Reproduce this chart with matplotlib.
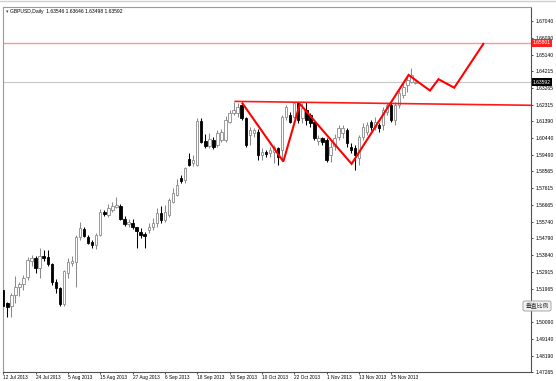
import matplotlib
matplotlib.use("Agg")
import matplotlib.pyplot as plt
from matplotlib.patches import FancyBboxPatch
from matplotlib.transforms import blended_transform_factory
import numpy as np
import pandas as pd

# ---------------- data ----------------
symbol_title = "GBPUSD,Daily  1.63546 1.63646 1.63498 1.63592"
start_date = "2013-07-12"

opens = [1.5190, 1.5113, 1.5100, 1.5161, 1.5207, 1.5223, 1.5261, 1.5354, 1.5366, 1.5312,
         1.5381, 1.5374, 1.5336, 1.5236, 1.5199, 1.5111, 1.5283, 1.5343, 1.5349, 1.5486,
         1.5531, 1.5486, 1.5461, 1.5443, 1.5499, 1.5630, 1.5612, 1.5640, 1.5656, 1.5659,
         1.5588, 1.5561, 1.5568, 1.5543, 1.5518, 1.5505, 1.5527, 1.5546, 1.5565, 1.5621,
         1.5584, 1.5612, 1.5687, 1.5724, 1.5818, 1.5809, 1.5925, 1.5906, 1.5893, 1.6143,
         1.6030, 1.6000, 1.6034, 1.6006, 1.6034, 1.6034, 1.6137, 1.6186, 1.6186, 1.6231,
         1.6158, 1.6062, 1.6072, 1.6081, 1.5950, 1.5968, 1.5959, 1.5968, 1.5989, 1.5978,
         1.6165, 1.6175, 1.6165, 1.6241, 1.6158, 1.6203, 1.6175, 1.6137, 1.6030, 1.6044,
         1.6034, 1.5950, 1.6001, 1.6052, 1.6072, 1.6090, 1.5996, 1.5987, 1.5933, 1.6053,
         1.6081, 1.6137, 1.6109, 1.6118, 1.6118, 1.6193, 1.6231, 1.6147, 1.6231, 1.6288,
         1.6343, 1.6362, 1.63546]
highs = [1.5201, 1.5122, 1.5171, 1.5265, 1.5236, 1.5272, 1.5377, 1.5387, 1.5381, 1.5424,
         1.5415, 1.5411, 1.5343, 1.5250, 1.5207, 1.5302, 1.5368, 1.5381, 1.5499, 1.5572,
         1.5546, 1.5499, 1.5471, 1.5509, 1.5644, 1.5640, 1.5674, 1.5687, 1.5715, 1.5674,
         1.5606, 1.5588, 1.5588, 1.5546, 1.5537, 1.5518, 1.5565, 1.5593, 1.5650, 1.5659,
         1.5668, 1.5706, 1.5762, 1.5813, 1.5837, 1.5884, 1.5959, 1.5950, 1.6156, 1.6156,
         1.6068, 1.6072, 1.6049, 1.6090, 1.6094, 1.6169, 1.6203, 1.6250, 1.6241, 1.6241,
         1.6165, 1.6109, 1.6100, 1.6094, 1.5987, 1.5977, 1.5996, 1.6006, 1.5996, 1.6175,
         1.6231, 1.6193, 1.6250, 1.6250, 1.6241, 1.6250, 1.6184, 1.6147, 1.6062, 1.6053,
         1.6044, 1.6024, 1.6068, 1.6118, 1.6118, 1.6102, 1.6017, 1.6006, 1.6062, 1.6128,
         1.6137, 1.6147, 1.6165, 1.6128, 1.6222, 1.6241, 1.6241, 1.6250, 1.6316, 1.6353,
         1.6390, 1.6438, 1.63646]
lows = [1.5077, 1.5039, 1.5039, 1.5113, 1.5156, 1.5190, 1.5246, 1.5325, 1.5283, 1.5255,
        1.5353, 1.5325, 1.5218, 1.5171, 1.5100, 1.5100, 1.5255, 1.5325, 1.5205, 1.5471,
        1.5486, 1.5449, 1.5424, 1.5419, 1.5494, 1.5606, 1.5602, 1.5630, 1.5650, 1.5584,
        1.5550, 1.5546, 1.5531, 1.5424, 1.5481, 1.5424, 1.5509, 1.5527, 1.5546, 1.5565,
        1.5574, 1.5602, 1.5678, 1.5719, 1.5790, 1.5790, 1.5888, 1.5888, 1.5888, 1.6015,
        1.5987, 1.5987, 1.5982, 1.5996, 1.6024, 1.6024, 1.6128, 1.6175, 1.6165, 1.6147,
        1.5996, 1.6006, 1.6053, 1.5921, 1.5921, 1.5940, 1.5940, 1.5903, 1.5893, 1.5921,
        1.6147, 1.6128, 1.6156, 1.6128, 1.6128, 1.6119, 1.6109, 1.6034, 1.6006, 1.6006,
        1.5912, 1.5912, 1.5978, 1.6034, 1.6045, 1.5995, 1.5961, 1.5865, 1.5893, 1.6034,
        1.6062, 1.6090, 1.6090, 1.6081, 1.6090, 1.6175, 1.6135, 1.6119, 1.6212, 1.6269,
        1.6306, 1.6353, 1.63498]
closes = [1.5100, 1.5094, 1.5161, 1.5207, 1.5223, 1.5255, 1.5358, 1.5366, 1.5312, 1.5381,
          1.5370, 1.5336, 1.5231, 1.5199, 1.5111, 1.5293, 1.5349, 1.5354, 1.5486, 1.5537,
          1.5494, 1.5456, 1.5443, 1.5499, 1.5630, 1.5617, 1.5650, 1.5659, 1.5668, 1.5588,
          1.5561, 1.5574, 1.5543, 1.5523, 1.5499, 1.5490, 1.5546, 1.5565, 1.5621, 1.5584,
          1.5630, 1.5696, 1.5734, 1.5781, 1.5805, 1.5875, 1.5893, 1.5921, 1.6143, 1.6024,
          1.6000, 1.6038, 1.5996, 1.6075, 1.6081, 1.6147, 1.6184, 1.6203, 1.6222, 1.6158,
          1.6006, 1.6090, 1.6090, 1.5950, 1.5968, 1.5955, 1.5978, 1.5996, 1.5940, 1.6165,
          1.6222, 1.6137, 1.6241, 1.6147, 1.6212, 1.6147, 1.6128, 1.6044, 1.6044, 1.6024,
          1.5921, 1.5995, 1.6044, 1.6100, 1.6100, 1.6015, 1.5978, 1.5950, 1.6053, 1.6109,
          1.6118, 1.6109, 1.6137, 1.6100, 1.6203, 1.6231, 1.6147, 1.6231, 1.6297, 1.6334,
          1.6372, 1.6400, 1.63592]

# drawn objects (bar index, price)
zigzag_x = [59.2, 69.3, 73.4, 86.2, 100.3, 105.6, 107.7, 111.6, 118.8]
zigzag_y = [1.6240, 1.5912, 1.6237, 1.5899, 1.6400, 1.6312, 1.6376, 1.6328, 1.6575]
trend_x = [57.4, 131.0]
trend_y = [1.6251, 1.6229]
resistance_price = 1.65801
bid_price = 1.63592

ytick_values = [1.67040, 1.66090, 1.65140, 1.64215, 1.63265, 1.62315, 1.61390, 1.60440,
                1.59490, 1.58565, 1.57615, 1.56665, 1.55740, 1.54790, 1.53840, 1.52915,
                1.51965, 1.51015, 1.50090, 1.49140, 1.48190, 1.47265]
hidden_tick = 1.51015   # label covered by the button in the reference
label_every = 8
button_text = "垂直比例"

# ---------------- figure ----------------
W, H = 556, 381
fig = plt.figure(figsize=(W / 100, H / 100), dpi=100)
fig.patch.set_facecolor("white")
ax = fig.add_axes([3 / W, 9 / H, 528 / W, 365 / H])
ax.set_facecolor("white")

n = len(opens)
idx = np.arange(n)
dates = pd.bdate_range(start_date, periods=n)

o = np.array(opens); h = np.array(highs); l = np.array(lows); c = np.array(closes)
up = c >= o
gray = "#8a8a8a"
wick_colors = np.where(up, gray, "black")
ax.vlines(idx, l, h, colors=wick_colors, linewidth=0.75, zorder=2)
body_bottom = np.minimum(o, c)
body_h = np.maximum(np.abs(c - o), 0.00012)
ax.bar(idx[up], body_h[up], bottom=body_bottom[up], width=0.6,
       color="white", edgecolor=gray, linewidth=0.6, zorder=3)
ax.bar(idx[~up], body_h[~up], bottom=body_bottom[~up], width=0.6,
       color="black", edgecolor="black", linewidth=0.6, zorder=3)

# horizontal lines
ax.axhline(resistance_price, color="#f59a9a", linewidth=1.0, zorder=1)
ax.axhline(bid_price, color="#c8c8c8", linewidth=0.8, zorder=1)

# trend line and zigzag
ax.plot(trend_x, trend_y, color="#ff1a1a", linewidth=1.2, zorder=4)
ax.plot(zigzag_x, zigzag_y, color="#ff0000", linewidth=1.5, zorder=5,
        solid_joinstyle="miter")

ax.set_xlim(-0.07, 130.6)
ax.set_ylim(1.47278, 1.67828)

# y axis on the right
ax.yaxis.tick_right()
ax.set_yticks(ytick_values)
ax.set_yticklabels(["" if v == hidden_tick else f"{v:.5f}" for v in ytick_values])
ax.tick_params(axis="y", direction="out", length=1.6, width=0.5, pad=1.6,
               labelsize=3.6, colors="black")

# x axis
tick_pos = idx[::label_every]
ax.set_xticks(tick_pos)
ax.set_xticklabels([f"{d.day} {d.strftime('%b %Y')}" for d in dates[::label_every]])
ax.tick_params(axis="x", direction="out", length=1.6, width=0.5, pad=0.6,
               labelsize=3.4, colors="black")
for lbl in ax.get_xticklabels():
    lbl.set_horizontalalignment("left")
for lbl in ax.get_xticklabels() + ax.get_yticklabels():
    lbl.set_fontfamily("Liberation Sans")

for side in ["left", "top"]:
    ax.spines[side].set_color("#9a9a9a")
    ax.spines[side].set_linewidth(0.8)
for side in ["right", "bottom"]:
    ax.spines[side].set_color("#505050")
    ax.spines[side].set_linewidth(0.8)

# price boxes on the right axis
tr = blended_transform_factory(ax.transAxes, ax.transData)
ax.text(1.004, resistance_price, f"{resistance_price:.5f}", transform=tr,
        fontsize=3.6, color="white", family="Liberation Sans", va="center", ha="left",
        bbox=dict(boxstyle="square,pad=0.25", facecolor="#ff2020", edgecolor="none"),
        zorder=10, clip_on=False)
ax.text(1.004, bid_price, f"{bid_price:.5f}", transform=tr,
        fontsize=3.6, color="white", family="Liberation Sans", va="center", ha="left",
        bbox=dict(boxstyle="square,pad=0.25", facecolor="black", edgecolor="none"),
        zorder=10, clip_on=False)

# title
fig.text(6 / W, 1 - 12 / H, "\u25BE", fontsize=3.5, color="#404040",
         va="center", ha="left", family="DejaVu Sans")
fig.text(10 / W, 1 - 12 / H, symbol_title, fontsize=3.6, color="black",
         va="center", ha="left", family="Liberation Sans")

# top window edge
fig.add_artist(plt.Line2D([0, 1], [1 - 0.5 / H, 1 - 0.5 / H], color="#d0d0d0",
                          linewidth=1.0, transform=fig.transFigure))

# button
btn = FancyBboxPatch((523 / W, 1 - 311 / H), 28 / W, 10 / H,
                     boxstyle="round,pad=0,rounding_size=0.004",
                     transform=fig.transFigure, facecolor="#f2f2f2",
                     edgecolor="#9a9a9a", linewidth=0.6, zorder=20)
fig.patches.append(btn)
fig.text(537 / W, 1 - 306 / H, button_text, fontsize=4.2, color="#333333",
         va="center", ha="center", family=["Noto Sans CJK SC", "DejaVu Sans"],
         zorder=21)

fig.savefig("out.png", dpi=100, facecolor="white")
